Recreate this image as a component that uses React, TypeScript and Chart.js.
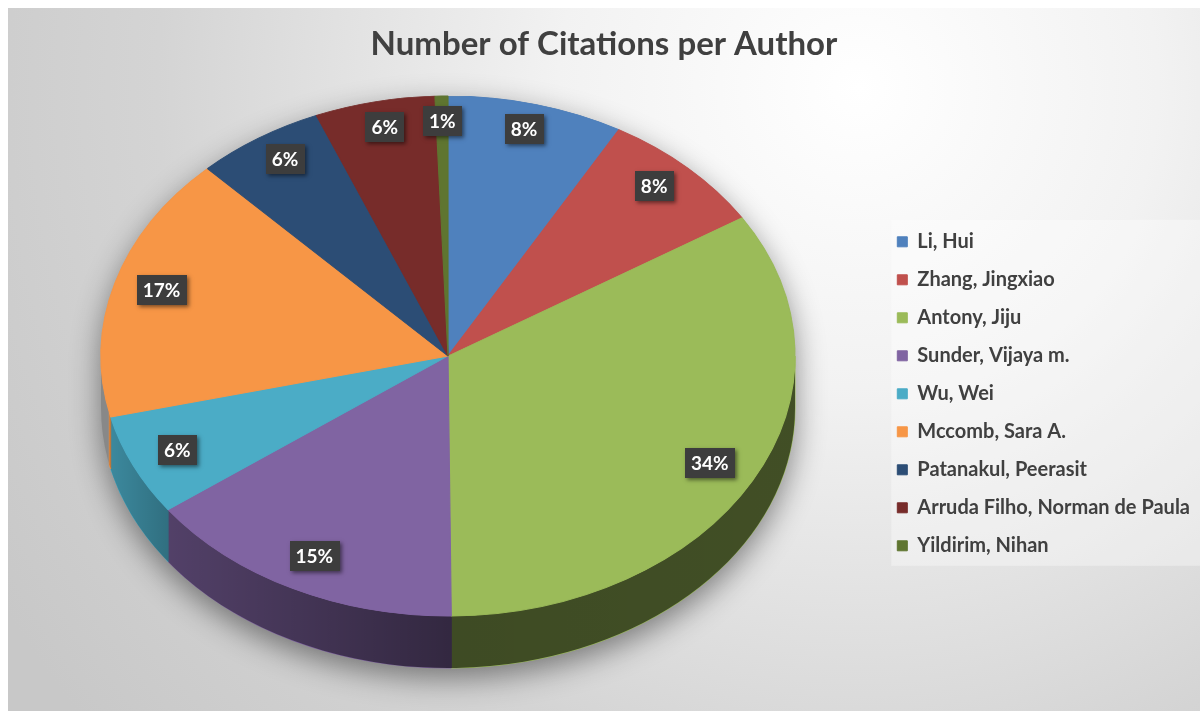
import React, { useEffect, useRef } from "react";
import { Chart, registerables } from "chart.js";

Chart.register(...registerables);

const TITLE = "Number of Citations per Author";
const AUTHORS = [
  "Li, Hui",
  "Zhang, Jingxiao",
  "Antony, Jiju",
  "Sunder, Vijaya m.",
  "Wu, Wei",
  "Mccomb, Sara A.",
  "Patanakul, Peerasit",
  "Arruda Filho, Norman de Paula",
  "Yildirim, Nihan",
];
const CITATIONS = [82, 79, 338, 151, 63, 166, 60, 56, 6];
const COLORS = [
  "#4F81BD",
  "#C0504D",
  "#9BBB59",
  "#8064A2",
  "#4BACC6",
  "#F79646",
  "#2C4D75",
  "#772C2A",
  "#5F7530",
];

// projected ellipse of the pie's top face (canvas coordinates)
const GEO = {
  cx: 440,
  cy: 348,
  rx: 347,
  ry: 260,
  depth: 52,
  labelFrac: 0.86,
  backStretch: 1.05,
  sideEnd: Math.PI * 0.93,
};
const FONT = "Lato, 'Open Sans', sans-serif";

const pie3d = {
  id: "pie3d",
  beforeDraw(chart: any) {
    const { ctx, width, height } = chart;
    ctx.save();
    const g = ctx.createRadialGradient(850, 80, 0, 850, 80, 1000);
    g.addColorStop(0, "#ffffff");
    g.addColorStop(0.3, "#f2f2f2");
    g.addColorStop(0.7, "#d4d4d4");
    g.addColorStop(1, "#c8c8c8");
    ctx.fillStyle = g;
    ctx.fillRect(0, 0, width, height);
    // legend panel
    const lg = chart.legend;
    if (lg && lg.columnSizes && lg.columnSizes.length) {
      const pad = lg.options.labels.padding;
      const colH = lg.columnSizes[0].height;
      const startY = (lg.top + pad + lg.bottom - colH) / 2;
      const top = startY - 12;
      const bottom = startY + colH - pad + 10;
      const left = lg.left + pad - 6;
      ctx.fillStyle = "rgba(255,255,255,0.35)";
      ctx.fillRect(left, top, width - left, bottom - top);
    }
    ctx.restore();
  },
  beforeDatasetsDraw(chart: any) {
    const meta = chart.getDatasetMeta(0);
    const arcs = meta.data;
    if (!arcs.length) return;
    const { ctx } = chart;
    const { cx, cy, rx, ry, depth, sideEnd } = GEO;
    const p0 = arcs[0].getProps(["x", "y", "outerRadius"], true);

    // soft shadow under the whole pie body
    ctx.save();
    ctx.shadowColor = "rgba(0,0,0,0.45)";
    ctx.shadowBlur = 30;
    ctx.shadowOffsetY = 10;
    ctx.fillStyle = "#888";
    ctx.beginPath();
    ctx.ellipse(cx, cy, rx, ry, 0, Math.PI, 2 * Math.PI);
    ctx.lineTo(cx + rx, cy + depth);
    ctx.ellipse(cx, cy + depth, rx, ry, 0, 0, Math.PI);
    ctx.closePath();
    ctx.fill();
    ctx.restore();

    // side walls of each slice
    ctx.save();
    arcs.forEach((arc: any, i: number) => {
      const { startAngle, endAngle } = arc.getProps(["startAngle", "endAngle"], true);
      const s = Math.max(startAngle, 0);
      const e = Math.min(endAngle, sideEnd);
      if (e <= s) return;
      ctx.beginPath();
      ctx.ellipse(cx, cy, rx, ry, 0, s, e, false);
      ctx.ellipse(cx, cy + depth, rx, ry, 0, e, s, true);
      ctx.closePath();
      ctx.fillStyle = COLORS[i % COLORS.length];
      ctx.fill();
      ctx.strokeStyle = COLORS[i % COLORS.length];
      ctx.lineWidth = 1;
      ctx.stroke();
    });
    const sg = ctx.createLinearGradient(cx - rx, 0, cx + rx, 0);
    sg.addColorStop(0, "rgba(0,0,0,0.18)");
    sg.addColorStop(0.1, "rgba(0,0,0,0.36)");
    sg.addColorStop(0.5, "rgba(0,0,0,0.6)");
    sg.addColorStop(1, "rgba(0,0,0,0.58)");
    ctx.beginPath();
    ctx.ellipse(cx, cy, rx, ry, 0, 0, sideEnd, false);
    ctx.ellipse(cx, cy + depth, rx, ry, 0, sideEnd, 0, true);
    ctx.closePath();
    ctx.fillStyle = sg;
    ctx.fill();
    ctx.restore();

    // tilt: map the library's circular pie onto the projected ellipse
    ctx.save();
    ctx.translate(cx, cy);
    ctx.scale(rx / p0.outerRadius, ry / p0.outerRadius);
    ctx.translate(-p0.x, -p0.y);
  },
  afterDatasetsDraw(chart: any) {
    const meta = chart.getDatasetMeta(0);
    const arcs = meta.data;
    if (!arcs.length) return;
    const { ctx } = chart;
    ctx.restore();
    const { cx, cy, rx, ry, labelFrac, backStretch } = GEO;
    const data: number[] = chart.data.datasets[0].data;
    const total = data.reduce((a, b) => a + b, 0);
    ctx.save();
    ctx.font = `bold 19px ${FONT}`;
    ctx.textAlign = "center";
    ctx.textBaseline = "middle";
    arcs.forEach((arc: any, i: number) => {
      const { startAngle, endAngle } = arc.getProps(["startAngle", "endAngle"], true);
      const mid = (startAngle + endAngle) / 2;
      const sn = Math.sin(mid);
      const px = cx + rx * labelFrac * Math.cos(mid);
      const py = cy + ry * labelFrac * sn * (sn < 0 ? backStretch : 1);
      const text = Math.round((data[i] / total) * 100) + "%";
      const w = ctx.measureText(text).width + 12;
      const h = 30;
      ctx.save();
      ctx.shadowColor = "rgba(0,0,0,0.5)";
      ctx.shadowBlur = 4;
      ctx.shadowOffsetX = 2;
      ctx.shadowOffsetY = 2;
      ctx.fillStyle = "#3d3d3d";
      ctx.fillRect(Math.round(px - w / 2), Math.round(py - h / 2), Math.round(w), h);
      ctx.restore();
      ctx.fillStyle = "#ffffff";
      ctx.fillText(text, px, py + 1);
    });
    ctx.restore();
  },
};

export default function App() {
  const ref = useRef<HTMLCanvasElement | null>(null);
  useEffect(() => {
    if (!ref.current) return;
    const chart = new Chart(ref.current, {
      type: "pie",
      data: {
        labels: AUTHORS,
        datasets: [
          {
            data: CITATIONS,
            backgroundColor: COLORS,
            borderColor: COLORS,
            borderWidth: 1,
            clip: false as any,
          },
        ],
      },
      options: {
        animation: false,
        responsive: false,
        events: [],
        layout: { padding: { bottom: 13 } },
        plugins: {
          title: {
            display: true,
            text: TITLE,
            color: "#404040",
            font: { family: FONT, size: 33, weight: "bold" },
            padding: { top: 17, bottom: 25 },
          },
          legend: {
            position: "right",
            align: "center",
            fullSize: false,
            labels: {
              boxWidth: 10,
              boxHeight: 10,
              padding: 18,
              color: "#404040",
              font: { family: FONT, size: 20, weight: "bold" },
            },
          },
          tooltip: { enabled: false },
        },
      } as any,
      plugins: [pie3d],
    });
    return () => chart.destroy();
  }, []);
  return (
    <div style={{ position: "absolute", left: 8, top: 8, width: 1192, height: 703 }}>
      <canvas ref={ref} width={1192} height={703} style={{ display: "block" }} />
    </div>
  );
}
